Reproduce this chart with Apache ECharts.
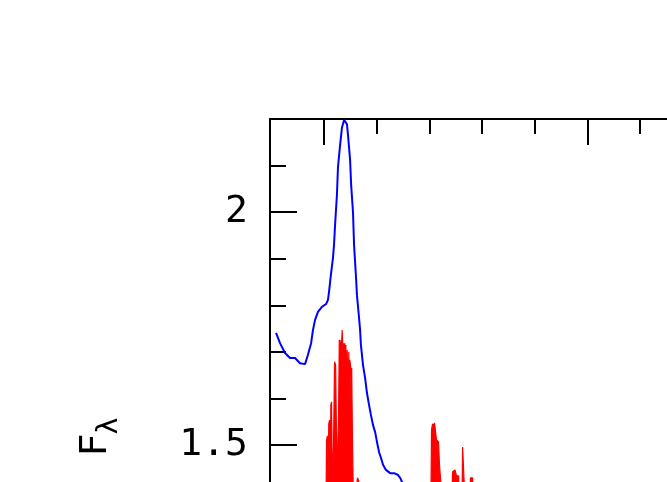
<!DOCTYPE html>
<html>
<head>
<meta charset="utf-8">
<script src="https://cdn.jsdelivr.net/npm/echarts@6/dist/echarts.min.js"></script>
<style>html,body{margin:0;padding:0;background:#fff;}#c{width:667px;height:482px;}</style>
</head>
<body>
<div id="c"></div>
<script>
// ---- data (wavelength-like x units, flux F_lambda) ----
const blueX = [981.8,983.3,985.2,987.1,989.0,990.9,992.8,993.9,995.1,995.8,996.6,997.7,999.2,1000.8,1001.5,1001.9,1002.7,1003.4,1003.8,1004.2,1004.9,1005.3,1006.1,1006.8,1007.6,1008.2,1008.7,1009.1,1009.9,1010.3,1011.0,1011.4,1012.2,1012.5,1013.3,1013.7,1014.0,1014.4,1014.8,1015.6,1016.3,1017.1,1017.8,1018.6,1019.4,1020.1,1020.9,1021.6,1022.4,1023.5,1025.1,1026.6,1028.1,1028.9,1029.6,1030.8];
const blueY = [1.741,1.719,1.698,1.687,1.687,1.676,1.674,1.694,1.719,1.747,1.769,1.786,1.797,1.803,1.812,1.829,1.870,1.902,1.930,1.973,2.037,2.097,2.144,2.181,2.198,2.200,2.189,2.166,2.112,2.058,2.000,1.930,1.855,1.822,1.773,1.747,1.715,1.694,1.672,1.644,1.612,1.586,1.565,1.543,1.528,1.507,1.485,1.473,1.458,1.447,1.440,1.440,1.436,1.430,1.421,1.404];
const redX = [1000.8,1001.1,1001.5,1001.7,1001.9,1002.3,1002.5,1002.7,1003.0,1003.2,1003.4,1003.8,1004.2,1004.6,1004.7,1004.9,1005.3,1005.7,1005.9,1006.1,1006.3,1006.5,1006.6,1006.8,1007.0,1007.2,1007.4,1007.6,1007.8,1008.0,1008.2,1008.4,1008.7,1008.9,1009.1,1009.3,1009.5,1009.7,1009.9,1010.3,1010.4,1010.6,1011.0,1011.2,1011.8,1012.5,1012.9,1013.3,1013.7,1040.6,1041.0,1041.4,1041.8,1042.1,1042.5,1042.9,1043.3,1043.7,1044.0,1044.4,1044.8,1048.6,1049.0,1049.7,1050.1,1050.5,1050.9,1051.3,1052.4,1052.8,1053.2,1053.5,1055.4,1055.8,1056.2,1056.6];
const redY = [1.40,1.511,1.520,1.447,1.546,1.554,1.425,1.586,1.593,1.468,1.447,1.490,1.679,1.672,1.554,1.468,1.479,1.554,1.726,1.715,1.597,1.726,1.640,1.721,1.747,1.749,1.683,1.719,1.576,1.719,1.640,1.715,1.447,1.704,1.700,1.597,1.700,1.640,1.683,1.668,1.533,1.666,1.511,1.40,1.40,1.40,1.430,1.425,1.40,1.40,1.533,1.546,1.541,1.548,1.546,1.511,1.507,1.500,1.455,1.451,1.40,1.40,1.443,1.447,1.443,1.434,1.434,1.40,1.40,1.496,1.494,1.40,1.40,1.430,1.430,1.40];
const xMinorTicks = [1020,1040,1060,1080,1120,1140,1160,1180];
const xMajorTicks = [1000,1100];
const yMinorTicks = [1.3,1.4,1.6,1.7,1.8,1.9,2.1];
const yMajorTicks = [1.5,2];
const yLabels = ['1.5','2'];
const yTitle = 'F';
const yTitleSub = 'λ';

const zip = (a,b) => a.map((v,i)=>[v,b[i]]);
const chart = echarts.init(document.getElementById('c'), null, {renderer:'canvas'});
const X_MIN = 979.5, X_MAX = 1200, Y_MIN = 1.2, Y_MAX = 2.2;
const lineStyle = {color:'#000', width:2};
chart.setOption({
  animation:false,
  backgroundColor:'#fff',
  grid:{left:270, top:119, width:581, height:466, show:false, outerBoundsMode:'none', containLabel:false},
  xAxis:[
    {type:'value', position:'top', min:X_MIN, max:X_MAX, gridIndex:0,
     axisLine:{show:true, onZero:false, lineStyle}, splitLine:{show:false},
     axisTick:{show:true, inside:true, length:15, lineStyle:{color:'#000',width:2}, customValues:xMinorTicks},
     axisLabel:{show:false, customValues:xMinorTicks}},
    {type:'value', position:'top', min:X_MIN, max:X_MAX, gridIndex:0,
     axisLine:{show:false}, splitLine:{show:false},
     axisTick:{show:true, inside:true, length:26, lineStyle:{color:'#000',width:2}, customValues:xMajorTicks},
     axisLabel:{show:false, customValues:xMajorTicks}}
  ],
  yAxis:[
    {type:'value', position:'left', min:Y_MIN, max:Y_MAX,
     axisLine:{show:true, onZero:false, lineStyle}, splitLine:{show:false},
     axisTick:{show:true, inside:true, length:16, lineStyle:{color:'#000',width:2}, customValues:yMinorTicks},
     axisLabel:{show:false, customValues:yMinorTicks}},
    {type:'value', position:'left', min:Y_MIN, max:Y_MAX,
     axisLine:{show:false}, splitLine:{show:false},
     axisTick:{show:true, inside:true, length:27, lineStyle:{color:'#000',width:2}, customValues:yMajorTicks},
     axisLabel:{show:true, margin:22, customValues:yMajorTicks,
       formatter:(v)=>{const i=yMajorTicks.indexOf(v);return i>=0?yLabels[i]:String(v);},
       color:'#000', fontFamily:'DejaVu Sans Mono', fontSize:38, fontWeight:'normal',
       textBorderColor:'#fff', textBorderWidth:1.6}}
  ],
  graphic:[
    {type:'text', x:96, y:445, rotation:Math.PI/2,
     style:{text:yTitle, fill:'#000', stroke:'#fff', lineWidth:1.6, font:'38px "DejaVu Sans Mono"', align:'center', verticalAlign:'middle'}},
    {type:'text', x:110, y:426, rotation:Math.PI/2,
     style:{text:yTitleSub, fill:'#000', stroke:'#fff', lineWidth:1.2, font:'28px "DejaVu Sans"', align:'center', verticalAlign:'middle'}}
  ],
  series:[
    {type:'line', xAxisIndex:0, yAxisIndex:0, data:zip(blueX,blueY), showSymbol:false, symbol:'none',
     lineStyle:{color:'#0000ff', width:2}, clip:true, z:2},
    {type:'line', xAxisIndex:0, yAxisIndex:0, data:zip(redX,redY), showSymbol:false, symbol:'none', step:'middle',
     lineStyle:{color:'#ff0000', width:1.2}, areaStyle:{color:'#ff0000', opacity:1, origin:'start'}, clip:true, z:3}
  ]
});
</script>
</body>
</html>
